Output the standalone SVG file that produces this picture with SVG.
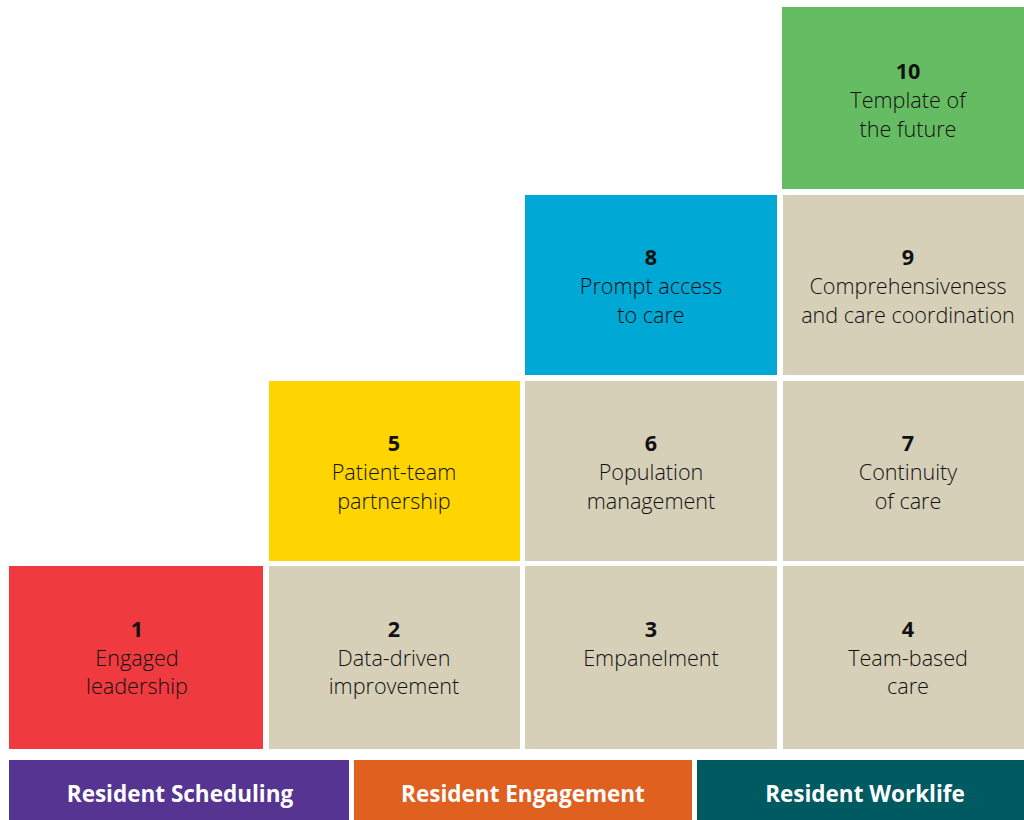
<svg xmlns="http://www.w3.org/2000/svg" width="1024" height="820" viewBox="0 0 1024 820">
<style>
.t{font-family:"Open Sans","Noto Sans","Liberation Sans",sans-serif;font-size:21.6px;font-weight:300;fill:#111111;text-anchor:middle}
.n{font-weight:bold;font-size:21.6px}
.b{font-family:"Open Sans","Noto Sans","Liberation Sans",sans-serif;font-size:22.5px;font-weight:bold;fill:#ffffff;text-anchor:middle}
.g{fill:#D6D0B8}
</style>
<rect width="1024" height="820" fill="#ffffff"/>
<g id="node10"><rect x="782" y="7" width="242" height="182" fill="#66BC62"/>
<text class="t" x="908" y="79"><tspan class="n">10</tspan><tspan x="908" y="108">Template of</tspan><tspan x="908" y="137">the future</tspan></text></g>
<g id="node8"><rect x="525" y="195" width="252" height="180" fill="#00A8D6"/>
<text class="t" x="651" y="265"><tspan class="n">8</tspan><tspan x="651" y="294">Prompt access</tspan><tspan x="651" y="323">to care</tspan></text></g>
<g id="node9"><rect class="g" x="783" y="195" width="241" height="180"/>
<text class="t" x="908" y="265"><tspan class="n">9</tspan><tspan x="908" y="294">Comprehensiveness</tspan><tspan x="908" y="323">and care coordination</tspan></text></g>
<g id="node5"><rect x="269" y="381" width="251" height="180" fill="#FFD500"/>
<text class="t" x="394" y="451"><tspan class="n">5</tspan><tspan x="394" y="480">Patient-team</tspan><tspan x="394" y="509">partnership</tspan></text></g>
<g id="node6"><rect class="g" x="525" y="381" width="252" height="180"/>
<text class="t" x="651" y="451"><tspan class="n">6</tspan><tspan x="651" y="480">Population</tspan><tspan x="651" y="509">management</tspan></text></g>
<g id="node7"><rect class="g" x="783" y="381" width="241" height="180"/>
<text class="t" x="908" y="451"><tspan class="n">7</tspan><tspan x="908" y="480">Continuity</tspan><tspan x="908" y="509">of care</tspan></text></g>
<g id="node1"><rect x="9" y="566" width="254" height="183" fill="#EF3A40"/>
<text class="t" x="137" y="637"><tspan class="n">1</tspan><tspan x="137" y="666">Engaged</tspan><tspan x="137" y="694">leadership</tspan></text></g>
<g id="node2"><rect class="g" x="269" y="566" width="251" height="183"/>
<text class="t" x="394" y="637"><tspan class="n">2</tspan><tspan x="394" y="666">Data-driven</tspan><tspan x="394" y="694">improvement</tspan></text></g>
<g id="node3"><rect class="g" x="525" y="566" width="252" height="183"/>
<text class="t" x="651" y="637"><tspan class="n">3</tspan><tspan x="651" y="666">Empanelment</tspan></text></g>
<g id="node4"><rect class="g" x="783" y="566" width="241" height="183"/>
<text class="t" x="908" y="637"><tspan class="n">4</tspan><tspan x="908" y="666">Team-based</tspan><tspan x="908" y="694">care</tspan></text></g>
<g id="barScheduling"><rect x="9" y="760" width="340" height="60" fill="#563592"/>
<text class="b" x="180" y="802">Resident Scheduling</text></g>
<g id="barEngagement"><rect x="354" y="760" width="338" height="60" fill="#E06020"/>
<text class="b" x="523" y="802">Resident Engagement</text></g>
<g id="barWorklife"><rect x="697" y="760" width="327" height="60" fill="#005A62"/>
<text class="b" x="865" y="802">Resident Worklife</text></g>
<g id="connectors"></g>
</svg>
